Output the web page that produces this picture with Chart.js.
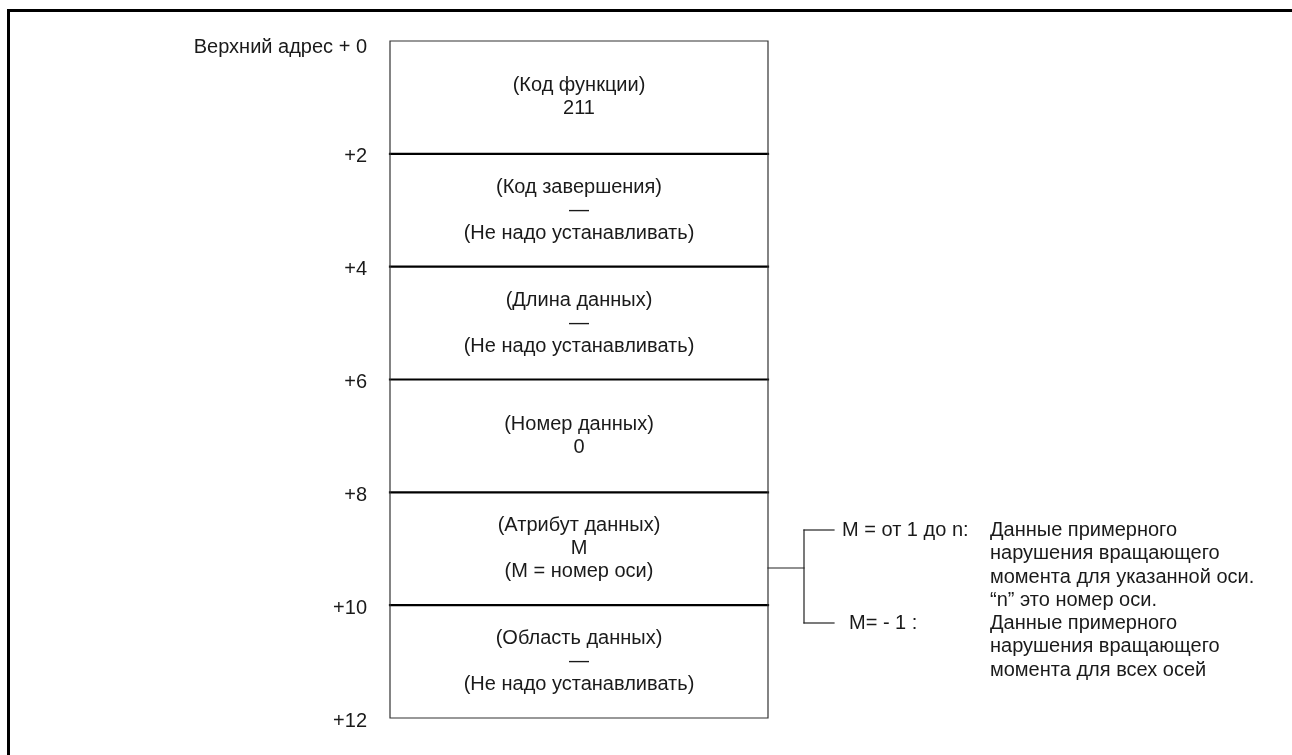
<!DOCTYPE html>
<html>
<head>
<meta charset="utf-8">
<script src="https://cdn.jsdelivr.net/npm/chart.js@4"></script>
<style>
  html, body { margin: 0; padding: 0; background: #fff; overflow: hidden; }
  #frame { position: absolute; left: 7px; top: 9px; width: 1400px; height: 900px; border: 3px solid #000; }
  #wrap { position: absolute; left: 0; top: 0; width: 1292px; height: 755px; }
</style>
</head>
<body>
<div id="frame"></div>
<div id="wrap"><canvas id="memmap" width="1292" height="755"></canvas></div>
<script>
// --- Data ---
const offsets = [0, 2, 4, 6, 8, 10, 12];
const offsetLabels = ['Верхний адрес + 0', '+2', '+4', '+6', '+8', '+10', '+12'];
const rowTitles = ['(Код функции)', '(Код завершения)', '(Длина данных)', '(Номер данных)', '(Атрибут данных)', '(Область данных)'];
const rowValues = ['211', '—', '—', '0', 'M', '—'];
const rowNotes = ['', '(Не надо устанавливать)', '(Не надо устанавливать)', '', '(M = номер оси)', '(Не надо устанавливать)'];
const attrCases = ['M = от 1 до n:', 'M= - 1 :'];
const attrDescriptions = [
    ['Данные примерного', 'нарушения вращающего', 'момента для указанной оси.', '“n” это номер оси.'],
    ['Данные примерного', 'нарушения вращающего', 'момента для всех осей']
];

// --- Layout (pixels) ---
const W = 1292, H = 755;
const boxLeft = 390, boxRight = 768, boxTop = 41, boxBottom = 718;
const labelRight = 367;
const connX = 804, branchEnd = 834;
const connMid = 568, caseY = [530, 623];
const caseX = [842, 849], descX = 990;
const lineH = 23, noteLineH = 23.6;
const FONT = '20px "Liberation Sans", Arial, Helvetica, sans-serif';
const INK = '#1a1a1a';

// address axis scaled so that offset 0 sits on boxTop and offset 12 on boxBottom
const first = offsets[0], last = offsets[offsets.length - 1];
const perPx = (last - first) / (boxBottom - boxTop);
const yMin = first - boxTop * perPx;
const yMax = last + (H - boxBottom) * perPx;
const toAddr = (px) => first + (px - boxTop) * perPx;

// --- Datasets ---
const datasets = [];
datasets.push({
    data: [{ x: boxLeft, y: first }, { x: boxRight, y: first }, { x: boxRight, y: last }, { x: boxLeft, y: last }, { x: boxLeft, y: first }],
    borderColor: '#333', borderWidth: 1.2
});
offsets.slice(1, -1).forEach(o => {
    datasets.push({ data: [{ x: boxLeft, y: o }, { x: boxRight, y: o }], borderColor: '#000', borderWidth: 2.2 });
});
// attribute connector
datasets.push({ data: [{ x: boxRight, y: toAddr(connMid) }, { x: connX, y: toAddr(connMid) }], borderColor: '#222', borderWidth: 1.2 });
datasets.push({ data: [{ x: connX, y: toAddr(caseY[0]) }, { x: connX, y: toAddr(caseY[1]) }], borderColor: '#222', borderWidth: 1.2 });
attrCases.forEach((c, i) => {
    datasets.push({ data: [{ x: connX, y: toAddr(caseY[i]) }, { x: branchEnd, y: toAddr(caseY[i]) }], borderColor: '#222', borderWidth: 1.2 });
});
datasets.forEach(d => Object.assign(d, { showLine: true, pointRadius: 0, fill: false, tension: 0, borderCapStyle: 'square' }));

// --- Text plugin ---
const textPlugin = {
    id: 'memText',
    afterDatasetsDraw(chart) {
        const { ctx, scales: { x, y } } = chart;
        ctx.save();
        ctx.font = FONT;
        ctx.fillStyle = INK;
        ctx.textBaseline = 'middle';

        // offset labels on the left
        ctx.textAlign = 'right';
        offsets.forEach((o, i) => {
            ctx.fillText(offsetLabels[i], x.getPixelForValue(labelRight), y.getPixelForValue(o) + (i === 0 ? 6 : 3));
        });

        // row contents
        ctx.textAlign = 'center';
        const cx = x.getPixelForValue((boxLeft + boxRight) / 2);
        rowTitles.forEach((t, i) => {
            const lines = [t, rowValues[i], rowNotes[i]].filter(Boolean);
            const mid = (y.getPixelForValue(offsets[i]) + y.getPixelForValue(offsets[i + 1])) / 2;
            const start = mid - (lines.length - 1) * lineH / 2;
            lines.forEach((l, k) => ctx.fillText(l, cx, start + k * lineH));
        });

        // attribute cases
        ctx.textAlign = 'left';
        attrCases.forEach((c, i) => {
            const py = y.getPixelForValue(toAddr(caseY[i]));
            ctx.fillText(c, x.getPixelForValue(caseX[i]), py);
            attrDescriptions[i].forEach((l, k) => ctx.fillText(l, x.getPixelForValue(descX), py + k * noteLineH));
        });
        ctx.restore();
    }
};

new Chart(document.getElementById('memmap'), {
    type: 'scatter',
    data: { datasets },
    options: {
        responsive: false, animation: false,
        layout: { padding: 0 },
        plugins: { legend: { display: false }, tooltip: { enabled: false } },
        scales: {
            x: { type: 'linear', min: 0, max: W, display: false },
            y: { type: 'linear', min: yMin, max: yMax, reverse: true, display: false }
        }
    },
    plugins: [textPlugin]
});
</script>
</body>
</html>
